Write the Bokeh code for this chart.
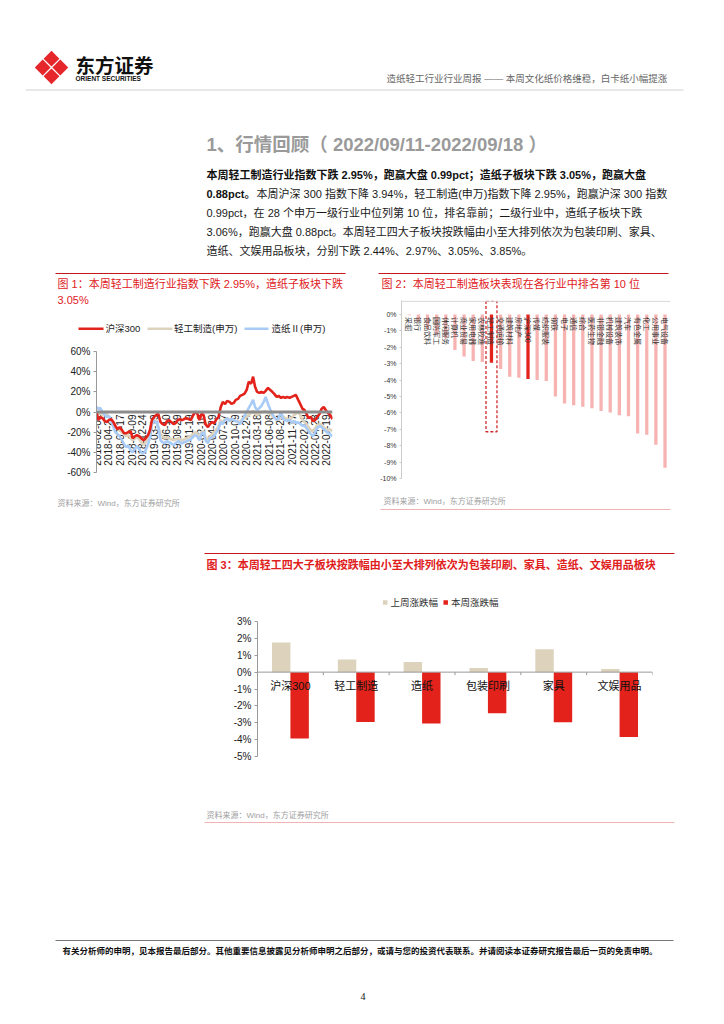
import math
import pandas as pd
from bokeh.plotting import figure
from bokeh.layouts import column, row
from bokeh.models import Range1d, Span, FixedTicker, PrintfTickFormatter, ColumnDataSource
from bokeh.core.properties import value
from bokeh.embed import file_html
from bokeh.resources import INLINE

# ---------------- data ----------------
# Fig 1: cumulative change (%) since 2018-02-01, semi-monthly readings
hs300 = [0, -8, -5, -6, -9, -10, -8, -7, -10, -14, -17, -15, -18, -21, -21, -20, -19, -26, -24, -23, -24, -26,
         -28, -26, -23, -18, -8, -5, -3, -2, -10, -12, -13, -9, -8, -10, -12, -11, -8, -7, -8, -7, -6, -7, -8, -4,
         0, -1, -8, -2, -3, -12, -15, -12, -10, -11, -7, -5, 5, 10, 8, 11, 10, 8, 9, 12, 13, 16, 17, 18,
         22, 30, 28, 35, 25, 20, 19, 20, 19, 21, 24, 22, 20, 18, 15, 16, 14, 15, 14, 15, 14, 15, 16, 17,
         12, 8, 3, 2, -2, -6, -5, -9, -8, -5, -2, 3, 5, 2, -1, -3, -7]
light_ind = [0, -2, -1, -3, 0, -2, -5, -8, -12, -15, -17, -18, -20, -22, -24, -23, -26, -28, -26, -25, -27, -30,
             -33, -30, -25, -18, -10, -8, -10, -14, -22, -24, -26, -25, -26, -27, -28, -27, -26, -27, -28, -27, -26, -25, -24, -22,
             -20, -21, -26, -20, -19, -25, -28, -24, -22, -20, -17, -14, -8, -10, -7, -6, -8, -7, -8, -9, -9, -10, -7, -6,
             -5, -3, -1, 1, -2, -3, -2, 0, 0, 1, -1, -2, -4, -6, -7, -8, -6, -5, -6, -7, -8, -6, -3, -2,
             0, -3, -8, -10, -12, -15, -18, -19, -16, -13, -12, -13, -15, -17, -18, -17, -19]
paper = [5, 3, 4, 0, -3, -5, -4, -8, -15, -20, -22, -24, -28, -32, -35, -33, -38, -40, -36, -34, -37, -40,
         -41, -38, -32, -25, -12, -9, -10, -15, -28, -30, -31, -29, -30, -31, -33, -31, -29, -30, -31, -30, -29, -28, -27, -25,
         -23, -24, -28, -22, -20, -28, -31, -26, -25, -24, -20, -17, -10, -12, -8, -6, -9, -7, -8, -9, -10, -12, -8, -4,
         0, 4, 8, 12, 5, 2, 4, 6, 10, 15, 8, 3, -2, -5, -8, -6, 0, -7, -8, -9, -8, -10, -9, -11,
         -10, -12, -14, -13, -16, -19, -22, -24, -20, -16, -14, -15, -17, -19, -21, -22, -24]
date_labels = ["2018-02-01", "2018-04-27", "2018-07-17", "2018-10-09", "2018-12-24", "2019-03-19",
               "2019-06-10", "2019-08-29", "2019-11-19", "2020-02-10", "2020-04-29", "2020-07-17",
               "2020-10-09", "2020-12-24", "2021-03-18", "2021-06-08", "2021-08-24", "2021-11-17",
               "2022-02-09", "2022-04-28", "2022-07-19"]
fig1_ticks = [60, 40, 20, 0, -20, -40, -60]

# Fig 2: weekly change (%) by Shenwan industry
industries = ["采掘", "银行", "食品饮料", "国防军工", "休闲服务", "计算机", "商业贸易", "家用电器", "农林牧渔",
              "轻工制造", "交通运输", "建筑材料", "房地产", "沪深300", "传媒", "纺织服装", "钢铁", "电子", "通信",
              "综合", "医药生物", "非银金融", "机械设备", "建筑装饰", "汽车", "有色金属", "化工", "公用事业", "电气设备"]
ind_change = [-0.05, -0.45, -0.9, -1.2, -1.45, -2.17, -2.57, -2.84, -2.9, -2.95, -3.33, -3.8, -3.86, -3.94,
              -4.0, -4.05, -5.0, -5.43, -5.53, -5.63, -5.72, -5.88, -5.98, -6.14, -6.2, -7.25, -7.33, -7.94, -9.35]
highlight = ["轻工制造", "沪深300"]
fig2_ticks = [0, -1, -2, -3, -4, -5, -6, -7, -8, -9, -10]

# Fig 3: sub-sectors, last week vs this week (%)
sectors = ["沪深300", "轻工制造", "造纸", "包装印刷", "家具", "文娱用品"]
last_week = [1.75, 0.75, 0.6, 0.25, 1.35, 0.18]
this_week = [-3.94, -2.95, -3.05, -2.44, -2.97, -3.85]
fig3_ticks = [3, 2, 1, 0, -1, -2, -3, -4, -5]

# ---------------- styles ----------------
FONT = "Liberation Sans, Noto Sans CJK SC"
RED_T = "#e0201c"
RED_L = "#c8161d"
RED = "#e3231b"
BEIGE = "#ddd3bd"
BLUE = "#a8cbf7"
PINK = "#f6b3b1"


def canvas(x0, y0, w, h):
    p = figure(width=w, height=h, x_range=Range1d(x0, x0 + w), y_range=Range1d(y0 + h, y0),
               output_backend="svg", toolbar_location=None, min_border=0,
               x_axis_location=None, y_axis_location=None)
    p.grid.visible = False
    p.outline_line_color = None
    p.background_fill_color = "white"
    p.border_fill_color = "white"
    return p


def box(p):
    # single-child wrapper so that sibling plots do not get their frames aligned
    return column(p)


def txt(p, x, y, s, size, color="#1a1a1a", bold=False, align="left", font=FONT, angle=0.0):
    p.text(x=[x], y=[y], text=[s], text_font=value(font), text_font_size=f"{size}px",
           text_color=color, text_font_style="bold" if bold else "normal",
           text_align=align, text_baseline="middle", angle=angle)


def seg(p, x0, y0, x1, y1, color, width=1.0):
    p.segment(x0=[x0], y0=[y0], x1=[x1], y1=[y1], line_color=color, line_width=width)


def style_yaxis(p, ticks, size, color="#222222"):
    p.yaxis.ticker = FixedTicker(ticks=ticks)
    p.yaxis.formatter = PrintfTickFormatter(format="%d%%")
    p.yaxis.major_label_text_font = FONT
    p.yaxis.major_label_text_font_size = f"{size}px"
    p.yaxis.major_label_text_color = color
    p.yaxis.axis_line_color = "#9a9a9a"
    p.yaxis.major_tick_line_color = "#9a9a9a"
    p.yaxis.major_tick_out = 3
    p.yaxis.major_tick_in = 0
    p.yaxis.minor_tick_line_color = None
    p.yaxis.major_label_standoff = 3
    p.grid.visible = False
    p.outline_line_color = None
    p.background_fill_color = "white"
    p.border_fill_color = "white"


# ---------------- block A: header + text ----------------
A = canvas(0, 0, 724, 276)
cx, cy, d, r = 51, 67, 8.8, 7.9
xs, ys = [], []
for ox, oy in [(-d, 0), (d, 0), (0, -d), (0, d)]:
    xs.append([cx + ox - r, cx + ox, cx + ox + r, cx + ox])
    ys.append([cy + oy, cy + oy - r, cy + oy, cy + oy + r])
A.patches(xs=xs, ys=ys, fill_color="#e5262a", line_color=None)
txt(A, 75, 64, "东方证券", 19.5, color="#111111", bold=True, font="Noto Sans CJK SC")
txt(A, 75, 78, "ORIENT SECURITIES", 6.5, color="#111111", bold=True, font="Liberation Sans")
txt(A, 386, 78, "造纸轻工行业行业周报 —— 本周文化纸价格维稳，白卡纸小幅提涨", 9.5, color="#666666")
seg(A, 25, 89.5, 683, 89.5, "#d0d0d0", 1)

txt(A, 206, 144, "1、行情回顾（ 2022/09/11-2022/09/18 ）", 18.5, color="#9a9a9a", bold=True)
ly = [174.5, 193.5, 212.5, 231.5, 250.5]
txt(A, 206, ly[0], "本周轻工制造行业指数下跌 2.95%，跑赢大盘 0.99pct；造纸子板块下跌 3.05%，跑赢大盘", 11, color="#111111", bold=True)
txt(A, 206, ly[1], "0.88pct。", 11, color="#111111", bold=True)
txt(A, 256, ly[1], "本周沪深 300 指数下降 3.94%，轻工制造(申万)指数下降 2.95%，跑赢沪深 300 指数", 11)
txt(A, 206, ly[2], "0.99pct，在 28 个申万一级行业中位列第 10 位，排名靠前；二级行业中，造纸子板块下跌", 11)
txt(A, 206, ly[3], "3.06%，跑赢大盘 0.88pct。本周轻工四大子板块按跌幅由小至大排列依次为包装印刷、家具、", 11)
txt(A, 206, ly[4], "造纸、文娱用品板块，分别下跌 2.44%、2.97%、3.05%、3.85%。", 11)
seg(A, 55, 273, 345, 273, RED_L, 1)
seg(A, 378, 273, 668, 273, RED_L, 1)

# ---------------- block B1: figure 1 ----------------
B1a = canvas(0, 276, 377, 66)
txt(B1a, 57, 283.5, "图 1：本周轻工制造行业指数下跌 2.95%，造纸子板块下跌", 11, color=RED_T)
txt(B1a, 57, 299, "3.05%", 11, color=RED_T)
seg(B1a, 78, 328.3, 103, 328.3, RED, 2.5)
txt(B1a, 105, 328.3, "沪深300", 9.5, color="#222222")
seg(B1a, 147, 328.3, 172, 328.3, BEIGE, 2.5)
txt(B1a, 173.5, 328.3, "轻工制造(申万)", 9.5, color="#222222")
seg(B1a, 244, 328.3, 268, 328.3, BLUE, 2.5)
txt(B1a, 271, 328.3, "造纸Ⅱ(申万)", 9.5, color="#222222")

dates = pd.date_range("2018-02-01", periods=len(hs300), freq="SMS")
src1 = ColumnDataSource(dict(x=dates, hs=hs300, li=light_ind, pa=paper))
B1b = figure(width=377, height=148, x_axis_type="datetime",
             x_range=Range1d(dates[0].to_pydatetime(), dates[-1].to_pydatetime()),
             y_range=Range1d(-60, 60), output_backend="svg", toolbar_location=None,
             x_axis_location=None, min_border_left=96, min_border_right=45,
             min_border_top=9, min_border_bottom=18)
style_yaxis(B1b, fig1_ticks, 10)
B1b.add_layout(Span(location=0, dimension="width", line_color="#8c8c8c", line_width=3))
lab_dates = pd.to_datetime(date_labels)
B1b.text(x=lab_dates, y=[-2.5] * len(date_labels), text=date_labels, angle=math.pi / 2,
         text_align="right", text_baseline="middle", text_font=value("Liberation Sans"),
         text_font_size="10px", text_color="#222222")
B1b.line("x", "li", source=src1, line_color=BEIGE, line_width=2.6)
B1b.line("x", "pa", source=src1, line_color=BLUE, line_width=2.6)
B1b.line("x", "hs", source=src1, line_color=RED, line_width=2.6)

B1c = canvas(0, 490, 377, 30)
txt(B1c, 57, 502.5, "资料来源：Wind，东方证券研究所", 8, color="#a0a0a0")

# ---------------- block B2: figure 2 ----------------
B2a = canvas(377, 276, 347, 21)
txt(B2a, 381, 283.5, "图 2：本周轻工制造板块表现在各行业中排名第 10 位", 11, color=RED_T)

idx = list(range(len(industries)))
cols = [RED if n in highlight else PINK for n in industries]
B2b = figure(width=347, height=193, x_range=Range1d(-0.85, 28.6), y_range=Range1d(-10, 0.85),
             output_backend="svg", toolbar_location=None, x_axis_location=None,
             min_border_left=23, min_border_right=54, min_border_top=3, min_border_bottom=12)
style_yaxis(B2b, fig2_ticks, 7, color="#333333")
B2b.yaxis.axis_line_color = "#cccccc"
B2b.yaxis.major_tick_line_color = "#cccccc"
B2b.yaxis.major_tick_out = 2
B2b.add_layout(Span(location=0.8, dimension="width", line_color="#d5d5d5", line_width=1))
B2b.vbar(x=idx, top=ind_change, bottom=0, width=0.36, fill_color=cols, line_color=None)
B2b.text(x=idx, y=[-0.16] * len(idx), text=industries, angle=-math.pi / 2, text_align="left",
         text_baseline="middle", text_font=value("Noto Sans CJK SC"), text_font_size="7px",
         text_color="#333333")
hi = industries.index("轻工制造")
B2b.quad(left=[hi - 0.6], right=[hi + 0.6], top=[0.8], bottom=[-7.15], fill_color=None,
         line_color="#d0282b", line_dash="3 2", line_width=1.3)

B2c = canvas(377, 490, 347, 30)
txt(B2c, 383, 500.5, "资料来源：Wind，东方证券研究所", 8, color="#a0a0a0")
seg(B2c, 380, 509, 670, 509, "#f0b2b2", 1)

# ---------------- block C: figure 3 ----------------
C1 = canvas(0, 520, 724, 92)
seg(C1, 204, 553, 674, 553, RED_L, 1)
txt(C1, 206, 564, "图 3：本周轻工四大子板块按跌幅由小至大排列依次为包装印刷、家具、造纸、文娱用品板块", 11,
    color=RED_T, bold=True)
C1.rect(x=[384.7], y=[602], width=4.5, height=4.5, fill_color=BEIGE, line_color=None)
txt(C1, 390, 602, "上周涨跌幅", 9.5, color="#333333")
C1.rect(x=[445.2], y=[602], width=4.5, height=4.5, fill_color=RED, line_color=None)
txt(C1, 450.5, 602, "本周涨跌幅", 9.5, color="#333333")

sx = list(range(len(sectors)))
C2 = figure(width=724, height=188, x_range=Range1d(-0.5, 5.5), y_range=Range1d(-5, 3),
            output_backend="svg", toolbar_location=None, x_axis_location=None,
            min_border_left=257, min_border_right=72, min_border_top=9, min_border_bottom=44)
style_yaxis(C2, fig3_ticks, 10)
C2.vbar(x=[i - 0.14 for i in sx], top=last_week, bottom=0, width=0.28, fill_color=BEIGE, line_color=None)
C2.vbar(x=[i + 0.14 for i in sx], top=this_week, bottom=0, width=0.28, fill_color=RED, line_color=None)
C2.add_layout(Span(location=0, dimension="width", line_color="#9a9a9a", line_width=1))
bounds = [i - 0.5 for i in range(len(sectors) + 1)]
C2.segment(x0=bounds, y0=[0] * len(bounds), x1=bounds, y1=[-0.18] * len(bounds),
           line_color="#9a9a9a", line_width=1)
C2.text(x=sx, y=[-0.81] * len(sx), text=sectors, text_align="center", text_baseline="middle",
        text_font=value(FONT), text_font_size="11px", text_color="#111111")

C3 = canvas(0, 800, 724, 30)
txt(C3, 206, 814.5, "资料来源：Wind，东方证券研究所", 8, color="#a0a0a0")
seg(C3, 204, 822, 674, 822, "#f0b2b2", 1)

# ---------------- block D: footer ----------------
D = canvas(0, 830, 724, 194)
seg(D, 55, 940, 673, 940, "#777777", 1.2)
txt(D, 62, 950.5, "有关分析师的申明，见本报告最后部分。其他重要信息披露见分析师申明之后部分，或请与您的投资代表联系。并请阅读本证券研究报告最后一页的免责申明。",
    8.5, color="#111111", bold=True)
txt(D, 362.5, 996, "4", 10, color="#111111", align="center", font="Liberation Serif")

layout = column(box(A),
                row(column(box(B1a), box(B1b), box(B1c)), column(box(B2a), box(B2b), box(B2c))),
                column(box(C1), box(C2), box(C3)),
                box(D))
open("out.html", "w").write(file_html(layout, INLINE))
